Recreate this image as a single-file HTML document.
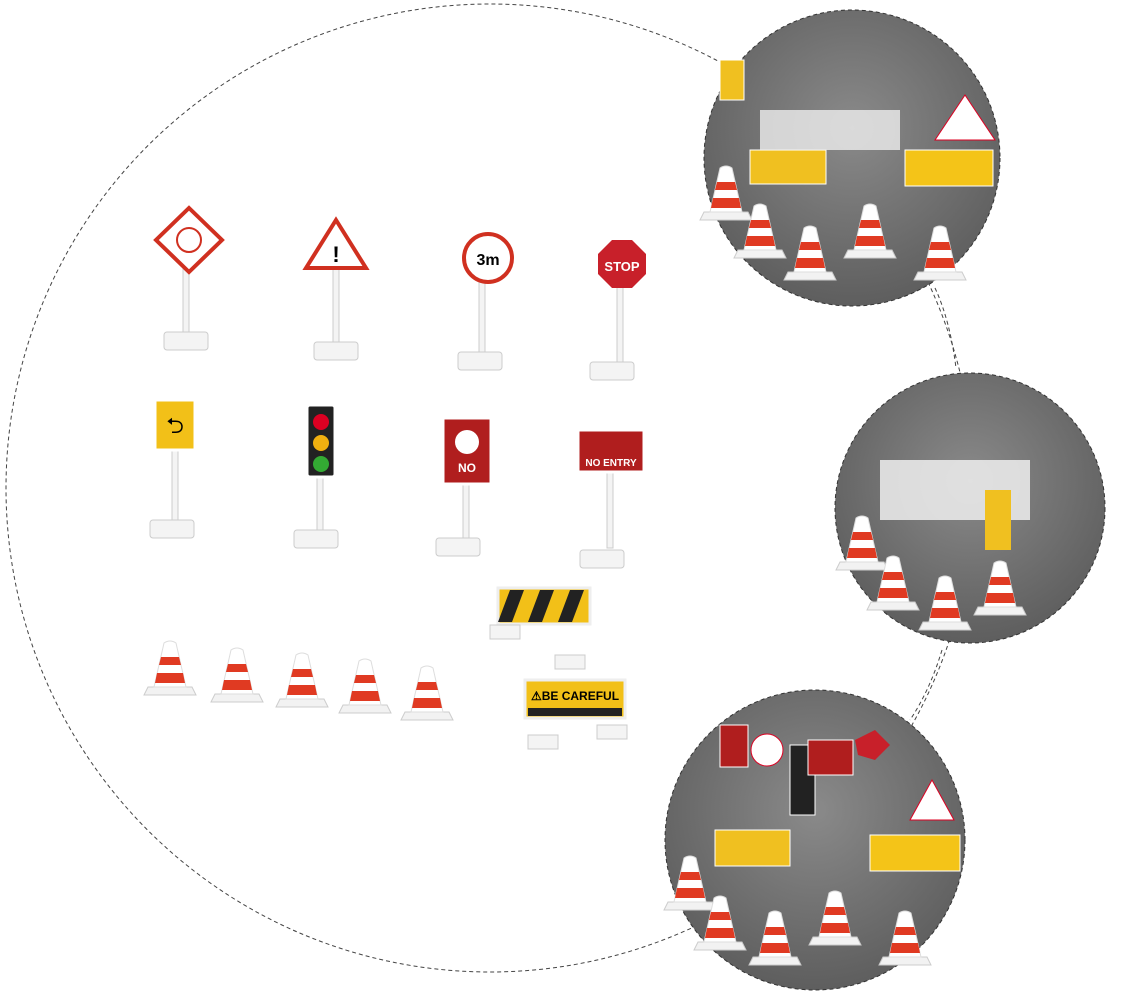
<!DOCTYPE html>
<html><head><style>body{margin:0;background:#fff}svg{display:block}</style></head><body>
<svg width="1134" height="992" viewBox="0 0 1134 992" xmlns="http://www.w3.org/2000/svg" font-family="Liberation Sans, sans-serif">
<defs>
<radialGradient id="g" cx="50%" cy="40%" r="60%"><stop offset="0" stop-color="#8a8a8a"/><stop offset="1" stop-color="#5e5e5e"/></radialGradient>
<g id="cone"><path d="M-22 22 L22 22 L26 30 L-26 30Z" fill="#f2f2f2" stroke="#ccc"/><path d="M-6 -22 Q0 -26 6 -22 L16 22 L-16 22Z" fill="#fff" stroke="#ddd"/><path d="M-9 -8 L9 -8 L11 0 L-11 0Z" fill="#e03a22"/><path d="M-13 8 L13 8 L15 18 L-15 18Z" fill="#e03a22"/></g>
<g id="base"><rect x="-22" y="0" width="44" height="18" rx="3" fill="#f4f4f4" stroke="#ccc"/></g>
</defs>
<circle cx="490" cy="488" r="484" fill="none" stroke="#444" stroke-width="1" stroke-dasharray="4 3"/>
<path d="M935 288 Q950 320 956 368" fill="none" stroke="#444" stroke-dasharray="4 3"/>
<path d="M942 650 Q930 690 910 720" fill="none" stroke="#444" stroke-dasharray="4 3"/>
<!-- photo circles -->
<circle cx="852" cy="158" r="148" fill="url(#g)" stroke="#333" stroke-dasharray="4 3"/>
<circle cx="970" cy="508" r="135" fill="url(#g)" stroke="#333" stroke-dasharray="4 3"/>
<circle cx="815" cy="840" r="150" fill="url(#g)" stroke="#333" stroke-dasharray="4 3"/>
<!-- top photo contents -->
<rect x="720" y="60" width="24" height="40" fill="#f0c020" stroke="#fff"/>
<rect x="750" y="150" width="76" height="34" fill="#f0c020" stroke="#fff"/>
<rect x="905" y="150" width="88" height="36" fill="#f4c418" stroke="#fff"/>
<path d="M935 140 L965 95 L995 140Z" fill="#fff" stroke="#d02"/>
<rect x="760" y="110" width="140" height="40" fill="#eee" opacity=".8"/>
<use href="#cone" x="726" y="190"/><use href="#cone" x="760" y="228"/><use href="#cone" x="810" y="250"/><use href="#cone" x="870" y="228"/><use href="#cone" x="940" y="250"/>
<!-- middle -->
<rect x="880" y="460" width="150" height="60" fill="#eee" opacity=".85"/>
<rect x="985" y="490" width="26" height="60" fill="#f0c020"/>
<use href="#cone" x="862" y="540"/><use href="#cone" x="893" y="580"/><use href="#cone" x="945" y="600"/><use href="#cone" x="1000" y="585"/>
<!-- bottom -->
<rect x="720" y="725" width="28" height="42" fill="#b01e1e" stroke="#fff"/>
<circle cx="767" cy="750" r="16" fill="#fff" stroke="#d02"/>
<rect x="790" y="745" width="25" height="70" fill="#222" stroke="#fff"/>
<rect x="808" y="740" width="45" height="35" fill="#b01e1e" stroke="#fff"/>
<path d="M855 740 L875 730 L890 745 L875 760 L858 755Z" fill="#c8202a"/>
<rect x="715" y="830" width="75" height="36" fill="#f0c020" stroke="#fff"/>
<rect x="870" y="835" width="90" height="36" fill="#f4c418" stroke="#fff"/>
<path d="M910 820 L932 780 L954 820Z" fill="#fff" stroke="#d02"/>
<use href="#cone" x="690" y="880"/><use href="#cone" x="720" y="920"/><use href="#cone" x="775" y="935"/><use href="#cone" x="835" y="915"/><use href="#cone" x="905" y="935"/>
<!-- left signs row 1 -->
<g><rect x="183" y="255" width="6" height="80" fill="#f4f4f4" stroke="#ccc"/><use href="#base" x="186" y="332"/><path d="M189 208 L222 240 L189 272 L156 240Z" fill="#fff" stroke="#d03020" stroke-width="4"/><circle cx="189" cy="240" r="12" fill="none" stroke="#d03020" stroke-width="2"/></g>
<g><rect x="333" y="265" width="6" height="80" fill="#f4f4f4" stroke="#ccc"/><use href="#base" x="336" y="342"/><path d="M336 220 L366 268 L306 268Z" fill="#fff" stroke="#d03020" stroke-width="4"/><text x="336" y="262" font-size="22" font-weight="bold" text-anchor="middle">!</text></g>
<g><rect x="479" y="280" width="6" height="75" fill="#f4f4f4" stroke="#ccc"/><use href="#base" x="480" y="352"/><circle cx="488" cy="258" r="24" fill="#fff" stroke="#d03020" stroke-width="4"/><text x="488" y="265" font-size="16" font-weight="bold" text-anchor="middle">3m</text></g>
<g><rect x="617" y="280" width="6" height="85" fill="#f4f4f4" stroke="#ccc"/><use href="#base" x="612" y="362"/><path d="M612 240 L632 240 L646 254 L646 274 L632 288 L612 288 L598 274 L598 254Z" fill="#c8202a"/><text x="622" y="271" font-size="13" font-weight="bold" fill="#fff" text-anchor="middle">STOP</text></g>
<!-- row 2 -->
<g><rect x="172" y="445" width="6" height="80" fill="#f4f4f4" stroke="#ccc"/><use href="#base" x="172" y="520"/><rect x="155" y="400" width="40" height="50" fill="#f2c018" stroke="#fff" stroke-width="3"/><text x="175" y="433" font-size="22" text-anchor="middle">⮌</text></g>
<g><rect x="317" y="470" width="6" height="65" fill="#f4f4f4" stroke="#ccc"/><use href="#base" x="316" y="530"/><rect x="307" y="405" width="28" height="72" rx="3" fill="#222" stroke="#fff" stroke-width="3"/><circle cx="321" cy="422" r="8" fill="#d02"/><circle cx="321" cy="443" r="8" fill="#f0b010"/><circle cx="321" cy="464" r="8" fill="#3a3"/></g>
<g><rect x="463" y="480" width="6" height="60" fill="#f4f4f4" stroke="#ccc"/><use href="#base" x="458" y="538"/><rect x="443" y="418" width="48" height="66" fill="#b01e1e" stroke="#fff" stroke-width="3"/><circle cx="467" cy="442" r="12" fill="#fff"/><text x="467" y="472" font-size="12" font-weight="bold" fill="#fff" text-anchor="middle">NO</text></g>
<g><rect x="607" y="468" width="6" height="80" fill="#f4f4f4" stroke="#ccc"/><use href="#base" x="602" y="550"/><rect x="578" y="430" width="66" height="42" fill="#b01e1e" stroke="#fff" stroke-width="3"/><text x="611" y="466" font-size="10" font-weight="bold" fill="#fff" text-anchor="middle">NO ENTRY</text></g>
<!-- barricades -->
<g><rect x="498" y="588" width="92" height="36" fill="#f2c018" stroke="#eee" stroke-width="3"/><path d="M510 590 l14 0 l-12 32 l-14 0Z M540 590 l14 0 l-12 32 l-14 0Z M570 590 l14 0 l-12 32 l-14 0Z" fill="#222"/><rect x="490" y="625" width="30" height="14" fill="#f4f4f4" stroke="#ccc"/><rect x="555" y="655" width="30" height="14" fill="#f4f4f4" stroke="#ccc"/></g>
<g><rect x="525" y="680" width="100" height="38" fill="#f2c018" stroke="#eee" stroke-width="3"/><text x="575" y="700" font-size="12" font-weight="bold" text-anchor="middle">⚠BE CAREFUL</text><rect x="528" y="708" width="94" height="8" fill="#222"/><rect x="528" y="735" width="30" height="14" fill="#f4f4f4" stroke="#ccc"/><rect x="597" y="725" width="30" height="14" fill="#f4f4f4" stroke="#ccc"/></g>
<!-- cones -->
<use href="#cone" x="170" y="665"/><use href="#cone" x="237" y="672"/><use href="#cone" x="302" y="677"/><use href="#cone" x="365" y="683"/><use href="#cone" x="427" y="690"/>
</svg>
</body></html>
